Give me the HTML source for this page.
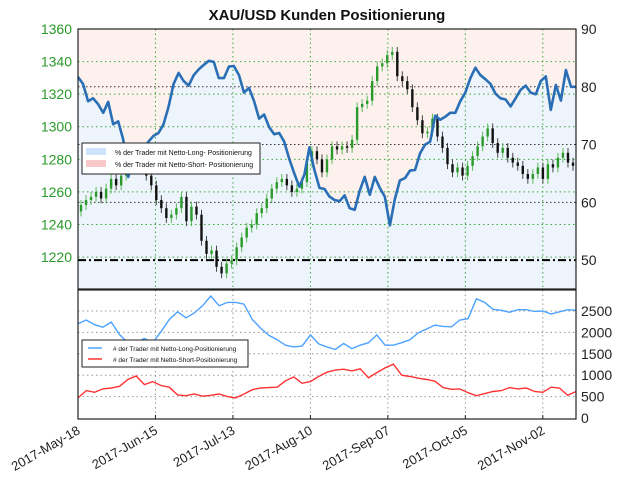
<!DOCTYPE html>
<html><head><meta charset="utf-8">
<style>
html,body{margin:0;padding:0;background:#fff;}
svg{display:block;font-family:"Liberation Sans",sans-serif;}
</style></head>
<body>
<svg id="chart" width="624" height="479" viewBox="0 0 624 479">
<text x="327" y="20" text-anchor="middle" font-size="15" font-weight="bold" fill="#111">XAU/USD Kunden Positionierung</text>
<g id="topg"></g>
<g id="botg"></g>
<g id="legend-top">
<rect x="82" y="143" width="178" height="31" fill="#fff" stroke="#222" stroke-width="1"/>
<rect x="86" y="148" width="20" height="7" fill="#cfe3fa"/>
<rect x="86" y="160" width="20" height="7" fill="#f8c8c8"/>
<text x="115" y="155" font-size="7" fill="#111">% der Trader mit Netto-Long- Positionierung</text>
<text x="115" y="167" font-size="7" fill="#111">% der Trader mit Netto-Short- Positionierung</text>
</g>
<g id="legend-bottom">
<rect x="82" y="340" width="166" height="27" fill="#fff" stroke="#222" stroke-width="1"/>
<line x1="88" y1="348" x2="102" y2="348" stroke="#4da3ff" stroke-width="1.5"/>
<line x1="88" y1="359" x2="102" y2="359" stroke="#ff3333" stroke-width="1.5"/>
<text x="113" y="351" font-size="6.5" fill="#111"># der Trader mit Netto-Long-Positionierung</text>
<text x="113" y="362" font-size="6.5" fill="#111"># der Trader mit Netto-Short-Positionierung</text>
</g>
</svg>
<script>
const dateLabels = ["2017-May-18","2017-Jun-15","2017-Jul-13","2017-Aug-10","2017-Sep-07","2017-Oct-05","2017-Nov-02"];
const dateTickDays = [0,28,56,84,112,140,168];
const priceTicks = [1220,1240,1260,1280,1300,1320,1340,1360];
const pctTicks = [50,60,70,80,90];
const countTicks = [0,500,1000,1500,2000,2500];
const closes = [1252,1255,1257,1260,1256,1262,1268,1264,1270,1275,1287,1284,1278,1270,1264,1255,1250,1244,1246,1250,1257,1242,1251,1246,1230,1222,1224,1214,1210,1216,1218,1226,1232,1238,1240,1247,1250,1256,1262,1266,1268,1264,1260,1262,1266,1278,1285,1280,1272,1280,1288,1286,1288,1287,1292,1312,1314,1316,1328,1337,1339,1344,1346,1331,1328,1323,1312,1304,1296,1297,1305,1294,1287,1277,1272,1275,1270,1276,1282,1288,1294,1299,1290,1284,1287,1281,1278,1276,1271,1268,1271,1275,1268,1277,1275,1281,1284,1278,1276];
const firstOpen = 1248;
const pctLong = [81.7,80.5,77.5,78,77,75.5,77.4,73.5,74,70.8,64.4,68,70,69,70.5,71.5,72,73.5,76.5,80.5,82.4,81,80.2,82,83,83.8,84.5,84.3,81.5,81.5,83.5,83.6,82,79,79.8,77.5,74.5,75.2,73,71.8,72,70.5,67.5,65,62.7,64.8,69.5,65.6,62.5,62.3,61,60.4,60.2,61.2,59,58.7,62,64.4,61.3,64.4,62.5,61,56,60.6,63.8,64.2,65.5,65.6,68.5,70,70.5,75,74.3,74.8,75.5,75.5,77.5,79,81.5,83.3,82,81.3,80.5,78.8,78,77.8,76.6,78,79.5,80.2,79,78.7,81,81.8,76,80.3,77.6,82.9,80,80];
const longCount = [2200,2290,2180,2120,2240,1950,1760,1760,1860,1760,2015,2300,2480,2340,2450,2620,2850,2620,2700,2700,2660,2300,2100,1930,1830,1700,1660,1680,1940,1730,1660,1600,1740,1620,1700,1760,1940,1700,1700,1760,1830,1990,2080,2170,2140,2130,2290,2320,2785,2700,2540,2515,2470,2530,2530,2490,2500,2430,2480,2530,2515];
const shortCount = [470,640,600,680,700,740,900,980,780,850,760,720,540,520,560,510,530,560,500,470,560,660,700,710,720,870,960,810,850,970,1070,1120,1140,1100,1150,940,1060,1170,1260,1000,970,930,900,860,710,670,680,590,520,570,620,640,710,680,700,620,600,720,700,530,620];

const X0=78, X1=576, TT=29, TB=289, BT=290, BB=419;
const DAYS=180;
const xDay = d => X0 + d*(X1-X0)/DAYS;
const yPrice = p => TB - (p-1200.4)*(TB-TT)/(1360-1200.4);
const yPct = v => TB - (v-45)*(TB-TT)/(90-45);
const yCnt = v => 418 - v*(418-BT)/2990;
const NS="http://www.w3.org/2000/svg";
function mk(tag, attrs, parent){const e=document.createElementNS(NS,tag);for(const k in attrs)e.setAttribute(k,attrs[k]);parent.appendChild(e);return e;}
const topG=document.getElementById('topg'), botG=document.getElementById('botg');

const step=(X1-X0)/(pctLong.length-1);
let lineD='';
pctLong.forEach((v,i)=>{lineD+=(i?'L':'M')+(X0+i*step).toFixed(1)+' '+yPct(v).toFixed(1);});
const pink=mk('rect',{x:X0,y:TT,width:X1-X0,height:TB-TT,fill:'#fdf1ee'},topG);


const blue=mk('path',{d:lineD+'L'+X1+' '+TB+'L'+X0+' '+TB+'Z',fill:'#eef4fb'},topG);



dateTickDays.forEach(d=>{
  const g1=mk('line',{x1:xDay(d),x2:xDay(d),y1:TT,y2:TB,stroke:'#3aaa3a','stroke-width':1,'stroke-dasharray':'1.5,3'},topG);
  
  
  const g2=mk('line',{x1:xDay(d),x2:xDay(d),y1:BT,y2:BB,stroke:'#999','stroke-width':1,'stroke-dasharray':'1.5,3'},botG);
  
  
});
priceTicks.forEach(p=>{
  if(p<1360){
  const g=mk('line',{x1:X0,x2:X1,y1:yPrice(p),y2:yPrice(p),stroke:'#3aaa3a','stroke-width':1,'stroke-dasharray':'1.5,3'},topG);
  
  }
  const t=mk('text',{x:72,y:yPrice(p)+5,'text-anchor':'end','font-size':14,fill:'#2a9a2a'},topG);
  t.textContent=p;
  
  
});
pctTicks.forEach(v=>{
  if(v>50&&v<90){
  const g=mk('line',{x1:X0,x2:X1,y1:yPct(v),y2:yPct(v),stroke:'#333','stroke-width':1,'stroke-dasharray':'1.5,2.5'},topG);
  
  }
  const t=mk('text',{x:581,y:yPct(v)+5,'font-size':14,fill:'#222'},topG);
  t.textContent=v;
  
  
});
const fifty=mk('line',{x1:X0,x2:X1,y1:yPct(50),y2:yPct(50),stroke:'#000','stroke-width':2,'stroke-dasharray':'8,3,2,3'},topG);



const cstep=(X1-X0-6)/(closes.length-1);
closes.forEach((c,i)=>{
  const o=i?closes[i-1]:firstOpen;
  const x=X0+3+i*cstep;
  const up=c>=o, col=up?'#2a9a2a':'#111';
  const hi=Math.max(o,c)+3, lo=Math.min(o,c)-3;
  const w=mk('line',{x1:x,x2:x,y1:yPrice(hi),y2:yPrice(lo),stroke:up?'#5ab85a':'#444','stroke-width':1},topG);
  
  
  const yt=yPrice(Math.max(o,c)), yb=yPrice(Math.min(o,c));
  const r=mk('rect',{x:x-1.2,y:yt,width:2.4,height:Math.max(1,yb-yt),fill:col},topG);
  
  
});

const sl=mk('path',{d:lineD,fill:'none',stroke:'#2a6fb5','stroke-width':2.6,'stroke-linejoin':'round'},topG);



const tf=mk('rect',{x:X0,y:TT,width:X1-X0,height:TB-TT,fill:'none',stroke:'#222','stroke-width':1.2},topG);



countTicks.forEach(v=>{
  if(v>0){
  const g=mk('line',{x1:X0,x2:X1,y1:yCnt(v),y2:yCnt(v),stroke:'#999','stroke-width':1,'stroke-dasharray':'1.5,3'},botG);
  
  }
  const t=mk('text',{x:581,y:yCnt(v)+5,'font-size':14,fill:'#222'},botG);
  t.textContent=v;
  
  
});
const cs=DAYS/(longCount.length-1);
function cpath(arr){return arr.map((v,i)=>(i?'L':'M')+xDay(i*cs).toFixed(1)+' '+yCnt(v).toFixed(1)).join('');}
const lp=mk('path',{d:cpath(longCount),fill:'none',stroke:'#4da3ff','stroke-width':1.4},botG);


const sp=mk('path',{d:cpath(shortCount),fill:'none',stroke:'#ff3333','stroke-width':1.4},botG);


const bf=mk('rect',{x:X0,y:BT,width:X1-X0,height:BB-BT,fill:'none',stroke:'#222','stroke-width':1.2},botG);


const sep=mk('line',{x1:X0,x2:X1,y1:BT-0.5,y2:BT-0.5,stroke:'#222','stroke-width':2},botG);



dateTickDays.forEach((d,i)=>{
  const x=xDay(d);
  const tk=mk('line',{x1:x,x2:x,y1:BB-4,y2:BB,stroke:'#222'},botG);
  
  
  const t=mk('text',{x:x+3,y:BB+14,'text-anchor':'end','font-size':13,fill:'#222',transform:`rotate(-30 ${x+3} ${BB+14})`},botG);
  t.textContent=dateLabels[i];
  
  
});
</script>
</body></html>
